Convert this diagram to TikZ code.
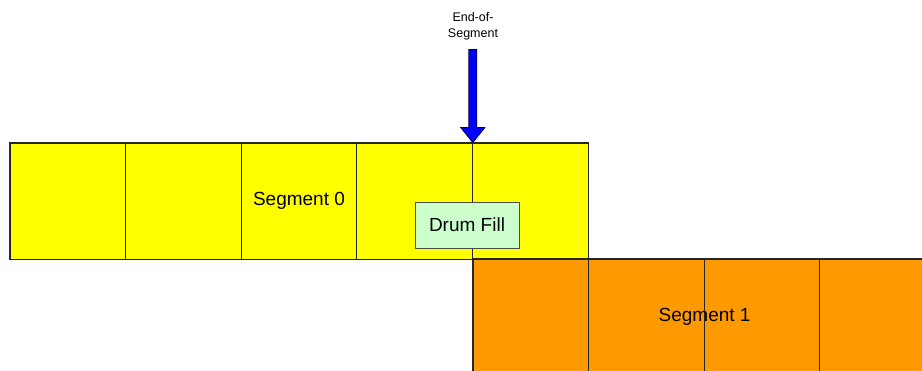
\documentclass[tikz,border=0pt]{standalone}
\usepackage{fontspec}
\setmainfont{Liberation Sans}
\usetikzlibrary{positioning}
\definecolor{segyellow}{HTML}{FFFF00}
\definecolor{segorange}{HTML}{FF9900}
\definecolor{drumgreen}{HTML}{CCFFCC}
\definecolor{eosblue}{HTML}{0000FF}

\begin{document}
\begin{tikzpicture}[x=1pt,y=-1pt]
    \tikzset{cell/.style = {rectangle, draw=black!85, line width=0.8pt,
                           inner sep=0pt, minimum width=115.6pt, minimum height=116pt}}
    \tikzset{yellowcell/.style = {cell, fill=segyellow}}
    \tikzset{orangecell/.style = {cell, fill=segorange}}
    \tikzset{outline/.style = {draw=black!85, line width=1.5pt}}
    \tikzset{seglabel/.style = {inner sep=0pt, font=\fontsize{19}{22}\selectfont}}
    \tikzset{drumfill/.style = {rectangle, fill=drumgreen, draw=black!70, line width=0.7pt,
                           minimum width=104pt, minimum height=46pt, font=\fontsize{19}{22}\selectfont}}
    \tikzset{eoslabel/.style = {align=center, inner sep=0pt, font=\fontsize{12.5}{16}\selectfont}}
    \tikzset{eosarrow/.style = {fill=eosblue, draw=blue!30!black, line width=0.8pt}}

    \useasboundingbox (0,0) rectangle (922,370);
    \clip (0,0) rectangle (922,370);

    % segment 0
    \node (Y0) [yellowcell] at (67.8,201) {};
    \node (Y1) [yellowcell] at (183.4,201) {};
    \node (Y2) [yellowcell] at (299,201) {};
    \node (Y3) [yellowcell] at (414.6,201) {};
    \node (Y4) [yellowcell] at (530.2,201) {};

    % segment 1
    \node (O0) [orangecell] at (530.8,317) {};
    \node (O1) [orangecell] at (646.4,317) {};
    \node (O2) [orangecell] at (762,317) {};
    \node (O3) [orangecell] at (877.6,317) {};

    \draw[outline] (Y0.north west) rectangle (Y4.south east);
    \draw[outline] (O0.north west) rectangle (O3.south east);

    \node (S0) [seglabel] at (Y2) {Segment 0};
    \node (S1) [seglabel] at (O1.east) {Segment 1};

    \node (DF) [drumfill] at (467,225) {Drum Fill};

    \node (EOS) [eoslabel] at (473,26) {End-of-\\Segment};
    \coordinate (tip) at (Y3.north east);
    \filldraw[eosarrow] (tip) -- ++(-12,-15) -- ++(8,0) -- ++(0,-78)
        -- ++(8,0) -- ++(0,78) -- ++(8,0) -- cycle;

\end{tikzpicture}
\end{document}
